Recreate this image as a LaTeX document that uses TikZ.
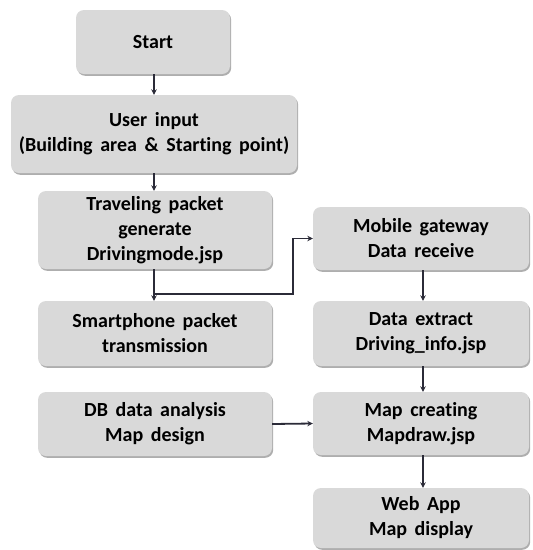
\documentclass[tikz,border=0pt]{standalone}
\usepackage{fontspec}
\setmainfont{Carlito}[Ligatures=NoCommon]
\usetikzlibrary{shadows,arrows.meta}
\definecolor{boxfill}{HTML}{D9D9D9}
\definecolor{arrcol}{HTML}{2B2B38}
\newcommand\myboxfont{\bfseries\fontsize{20}{25}\selectfont\spaceskip=7.6pt\relax}
\tikzset{
  flowbox/.style={rectangle, rounded corners=8pt, fill=boxfill, draw=none,
    align=center, inner sep=0pt, font=\myboxfont,
    drop shadow={shadow xshift=1.2pt, shadow yshift=-1.8pt, opacity=0.45, fill=black!70}},
  arr/.style={draw=arrcol, line width=1.8pt, -{Stealth[length=5.5pt,width=5.5pt]}}
}
\begin{document}
\begin{tikzpicture}[x=1pt,y=-1pt]
\useasboundingbox (0,0) rectangle (533,550);
\node[flowbox, minimum width=154pt, minimum height=64pt] (start) at (153,42) {Start};
\node[flowbox, minimum width=286pt, minimum height=78pt] (user) at (154,134) {User input\\(Building area \& Starting point)};
\node[flowbox, minimum width=234pt, minimum height=78pt] (trav) at (155,230) {Traveling packet\\generate\\Drivingmode.jsp};
\node[flowbox, minimum width=234pt, minimum height=65pt] (smart) at (155,333.5) {Smartphone packet\\transmission};
\node[flowbox, minimum width=234pt, minimum height=64pt] (db) at (155,424) {DB data analysis\\Map design};
\node[flowbox, minimum width=216pt, minimum height=63pt] (mob) at (421,238.5) {Mobile gateway\\Data receive};
\node[flowbox, minimum width=216pt, minimum height=65pt] (dex) at (421,333.5) {Data extract\\Driving\_info.jsp};
\node[flowbox, minimum width=216pt, minimum height=63pt] (map) at (421,423.5) {Map creating\\Mapdraw.jsp};
\node[flowbox, minimum width=216pt, minimum height=60pt] (web) at (421,518) {Web App\\Map display};
\coordinate (br) at (154,294);
\draw[arr] (start.south -| br) -- (user.north -| br);
\draw[arr] (user.south -| br) -- (trav.north -| br);
\draw[arr] (trav.south -| br) -- (smart.north -| br);
\draw[arr] (br) -- (293,294) |- (mob.west);
\draw[arr] ([xshift=2pt]mob.south) -- ([xshift=2pt]dex.north);
\draw[arr] ([xshift=2pt]dex.south) -- ([xshift=2pt]map.north);
\draw[arr] (db.east) -- (map.west);
\draw[arr] ([xshift=2pt]map.south) -- ([xshift=2pt]web.north);
\end{tikzpicture}
\end{document}
